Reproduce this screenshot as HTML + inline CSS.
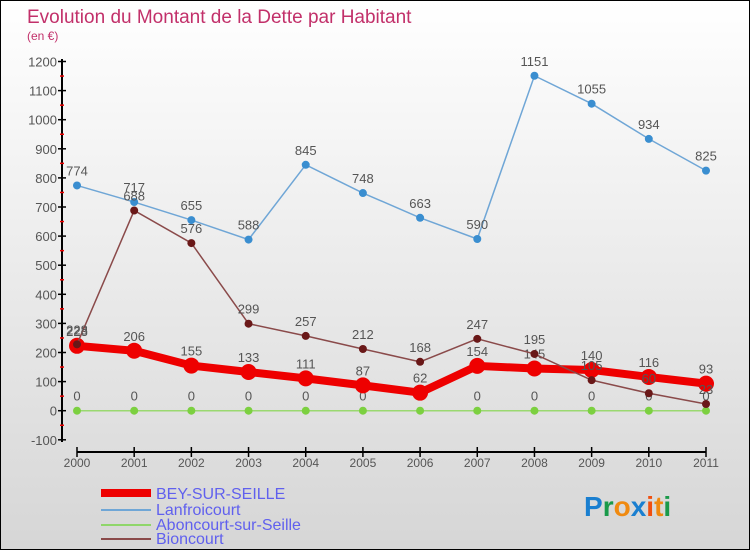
<!DOCTYPE html>
<html><head><meta charset="utf-8"><style>
body{margin:0}
#c{width:748px;height:548px;border:1px solid #000;background:linear-gradient(#fff,#d6d6d6);position:relative;overflow:hidden;font-family:"Liberation Sans",sans-serif}
</style></head><body>
<div id="c">
<svg width="748" height="548" id="s">
<text x="26" y="22" font-size="19" fill="#c2306a">Evolution du Montant de la Dette par Habitant</text>
<text x="26" y="39" font-size="12" fill="#c2306a">(en €)</text>
<g id="ax"></g><g id="series"></g>
<g font-size="16" fill="#6060ee">
<rect x="100" y="488" width="50" height="8" fill="#e00"/>
<text x="155" y="498">BEY-SUR-SEILLE</text>
<line x1="100" y1="509" x2="150" y2="509" stroke="#6fa6d6" stroke-width="2"/>
<text x="155" y="514">Lanfroicourt</text>
<line x1="100" y1="524" x2="150" y2="524" stroke="#8fd66a" stroke-width="2"/>
<text x="155" y="529">Aboncourt-sur-Seille</text>
<line x1="100" y1="538" x2="150" y2="538" stroke="#8a4a4a" stroke-width="2"/>
<text x="155" y="543">Bioncourt</text>
</g>
<g font-size="28" font-weight="bold">
<text x="583" y="515"><tspan fill="#1a7fd0">P</tspan><tspan fill="#1a9a4a">r</tspan><tspan fill="#f08a10">o</tspan><tspan fill="#1a7fd0">x</tspan><tspan fill="#f05010">i</tspan><tspan fill="#f08a10">t</tspan><tspan fill="#1a9a4a">i</tspan></text>
</g>
</svg></div>
<script>
const years=[2000,2001,2002,2003,2004,2005,2006,2007,2008,2009,2010,2011];
const bey=[223,206,155,133,111,87,62,154,145,140,116,93];
const lanf=[774,717,655,588,845,748,663,590,1151,1055,934,825];
const abon=[0,0,0,0,0,0,0,0,0,0,0,0];
const bion=[228,688,576,299,257,212,168,247,195,105,60,23];
const yTicks=[-100,0,100,200,300,400,500,600,700,800,900,1000,1100,1200];
const NS="http://www.w3.org/2000/svg";
const X=i=>76+i*(705-76)/11;
const Y=v=>409.7-v*0.291;
function mk(t,a,p){const e=document.createElementNS(NS,t);for(const k in a)e.setAttribute(k,a[k]);p.appendChild(e);return e;}
const ax=document.getElementById('ax');
let l=mk('line',{x1:61,y1:58,x2:61,y2:441,stroke:'#000','stroke-width':2},ax);


l=mk('line',{x1:76,y1:451,x2:705,y2:451,stroke:'#000','stroke-width':2},ax);


yTicks.forEach(v=>{
 mk('line',{x1:57,y1:Y(v),x2:65,y2:Y(v),stroke:'#000','stroke-width':1.5},ax);
 if(v<1200)mk('line',{x1:59,y1:Y(v+50),x2:63,y2:Y(v+50),stroke:'#e00','stroke-width':1.5},ax);
 const t=mk('text',{x:56,y:Y(v)+5,'text-anchor':'end','font-size':13,fill:'#555'},ax);t.textContent=v;
 
 
});
years.forEach((y,i)=>{
 mk('line',{x1:X(i),y1:446,x2:X(i),y2:456,stroke:'#000','stroke-width':1.5},ax);
 const t=mk('text',{x:X(i),y:466,'text-anchor':'middle','font-size':12,fill:'#555'},ax);t.textContent=y;
 
 
});
const sg=document.getElementById('series');
function series(vals,name,color,w,r,fill){
 const g=mk('g',{},sg);
 
 
 const p=mk('polyline',{points:vals.map((v,i)=>X(i)+','+Y(v)).join(' '),fill:'none',stroke:color,'stroke-width':w},g);
 
 
 vals.forEach((v,i)=>{
  const c=mk('circle',{cx:X(i),cy:Y(v),r:r,fill:fill},g);
  
  
  const t=mk('text',{x:X(i),y:Y(v)-10,'text-anchor':'middle','font-size':13,fill:'#555'},g);t.textContent=v;
  
  
 });
}
series(abon,'aboncourt','#9ad870',1.5,4,'#7cd040');
series(lanf,'lanfroicourt','#6fa6d6',1.5,4,'#3a8ed0');
series(bey,'bey','#ee0000',8,8,'#ee0000');
series(bion,'bioncourt','#8a4a4a',1.5,4,'#6a1818');
</script>
</body></html>
